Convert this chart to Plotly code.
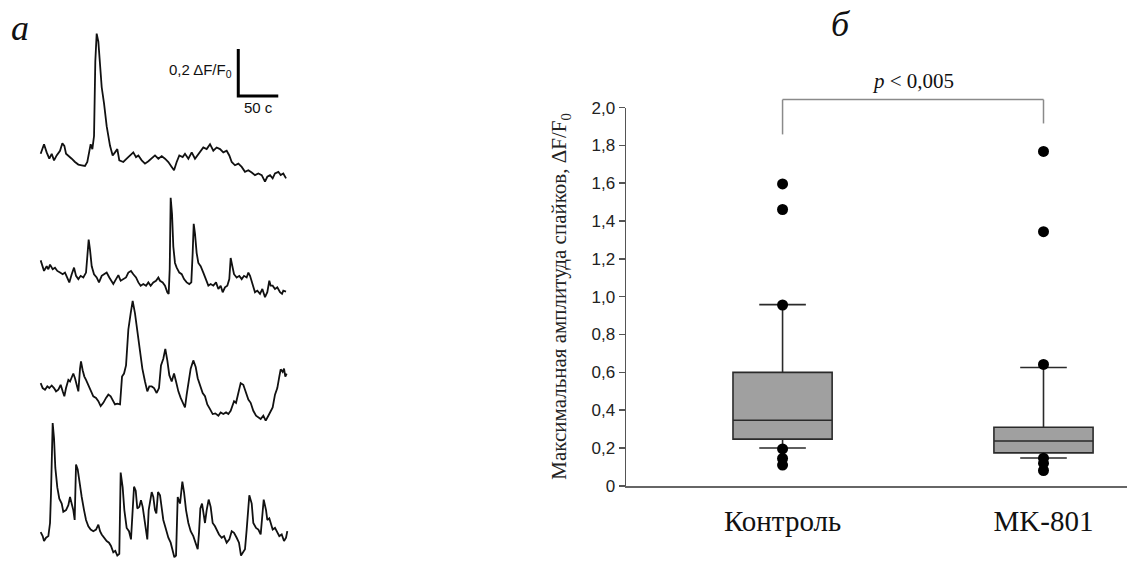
import plotly.graph_objects as go

# ---------------- Panel a: calcium traces (time, s ; dF/F0) ----------------
T1 = [0, 4.2, 7.5, 10.8, 13.8, 16.7, 20.0, 24.2, 27.1, 29.6,
      31.7, 34.6, 38.8, 42.9, 47.1, 51.3, 55.4, 58.3, 60.8, 62.5,
      64.6, 66.7, 68.3, 70.0, 72.1, 74.2, 76.3, 79.2, 82.5, 86.7,
      90.0, 92.9, 95.8, 98.3, 103.3, 107.5, 111.7, 115.8, 119.2, 122.1,
      126.3, 130.4, 134.6, 138.8, 142.9, 147.1, 151.3, 155.4, 159.6, 163.8,
      166.7, 170.0, 173.3, 177.5, 180.4, 184.6, 188.8, 192.9, 197.1, 200.0,
      203.3, 207.5, 211.7, 215.8, 220.0, 224.2, 228.3, 232.5, 235.8, 238.8,
      242.9, 247.1, 251.3, 255.4, 259.6, 263.8, 267.9, 272.1, 276.3, 280.4,
      283.3, 286.7, 290.0, 292.9, 297.1, 300.0, 303.3, 306.7]
V1 = [0.063, 0.104, 0.069, 0.042, 0.063, 0.035, 0.056, 0.076, 0.108, 0.097,
      0.063, 0.056, 0.042, 0.028, 0.017, 0.014, 0.011, 0.028, 0.069, 0.104,
      0.083, 0.139, 0.458, 0.576, 0.542, 0.417, 0.347, 0.278, 0.181, 0.097,
      0.056, 0.069, 0.083, 0.035, 0.028, 0.042, 0.056, 0.069, 0.049, 0.056,
      0.035, 0.021, 0.031, 0.042, 0.056, 0.042, 0.053, 0.042, 0.028, 0.007,
      -0.007, 0.028, 0.056, 0.049, 0.063, 0.042, 0.069, 0.042, 0.063, 0.076,
      0.090, 0.083, 0.104, 0.076, 0.090, 0.083, 0.069, 0.076, 0.056, 0.028,
      0.014, 0.021, 0.007, -0.014, -0.007, -0.017, -0.028, -0.021, -0.028, -0.056,
      -0.035, -0.028, -0.042, -0.021, -0.014, -0.028, -0.021, -0.042]

T2 = [0, 2.5, 4.2, 7.5, 9.6, 11.7, 15.0, 17.9, 20.8, 24.2,
      27.5, 30.4, 33.3, 35.8, 38.8, 41.7, 44.2, 47.1, 50.0, 53.3,
      56.7, 58.8, 60.0, 61.7, 63.8, 66.7, 70.0, 72.9, 76.3, 79.2,
      82.5, 85.8, 88.8, 90.8, 94.2, 97.1, 100.0, 103.3, 106.7, 109.6,
      112.9, 115.8, 119.2, 122.1, 125.0, 128.3, 131.7, 134.6, 137.5, 140.8,
      144.2, 147.1, 149.2, 152.5, 155.4, 158.3, 160.0, 161.3, 162.5, 164.2,
      165.8, 167.9, 170.0, 173.3, 176.3, 179.2, 182.5, 185.8, 188.3, 190.0,
      191.3, 192.9, 195.0, 197.1, 200.0, 203.3, 206.7, 209.6, 212.5, 215.8,
      219.2, 222.1, 225.0, 227.5, 230.4, 233.3, 235.8, 237.5, 239.6, 241.7,
      245.0, 248.3, 251.3, 254.2, 257.5, 259.6, 261.7, 265.0, 267.9, 270.8,
      274.2, 277.1, 280.4, 283.3, 285.8, 287.5, 290.0, 292.9, 295.8, 299.2,
      301.7, 303.3, 306.7]
V2 = [0.094, 0.069, 0.049, 0.069, 0.056, 0.076, 0.056, 0.063, 0.049, 0.042,
      0.035, 0.042, 0.021, 0.000, 0.035, 0.063, 0.028, 0.014, 0.028, 0.021,
      0.042, 0.125, 0.183, 0.139, 0.069, 0.035, 0.021, 0.000, 0.028, 0.035,
      0.042, 0.021, 0.007, -0.007, 0.014, 0.031, 0.007, 0.014, 0.021, 0.042,
      0.049, 0.035, 0.021, 0.000, -0.014, -0.007, -0.014, 0.000, -0.014, 0.000,
      0.007, 0.021, 0.007, 0.000, -0.014, -0.042, -0.049, 0.056, 0.361, 0.292,
      0.153, 0.083, 0.063, 0.042, 0.035, 0.014, 0.000, -0.007, 0.000, 0.125,
      0.250, 0.208, 0.125, 0.083, 0.069, 0.042, 0.014, -0.014, -0.007, -0.014,
      0.000, -0.028, -0.014, -0.042, -0.021, -0.014, 0.014, 0.104, 0.069, 0.035,
      0.021, 0.028, 0.014, 0.028, 0.021, 0.042, 0.028, -0.007, -0.042, -0.035,
      -0.049, -0.028, -0.063, -0.042, 0.007, -0.014, -0.014, -0.028, -0.021, -0.042,
      -0.049, -0.035, -0.039]

T3 = [0, 2.5, 5.4, 8.3, 10.8, 13.8, 16.7, 19.2, 22.1, 25.0,
      27.5, 29.6, 31.7, 34.6, 36.7, 38.8, 40.8, 42.9, 45.0, 47.1,
      49.2, 50.4, 52.5, 54.6, 56.7, 59.6, 62.5, 65.8, 69.2, 72.1,
      75.0, 78.3, 81.7, 84.6, 87.5, 90.0, 92.9, 95.8, 99.2, 101.7,
      104.2, 106.7, 109.6, 112.5, 115.0, 117.9, 120.8, 124.2, 127.1, 130.4,
      133.3, 135.8, 138.8, 141.7, 145.0, 147.9, 150.4, 153.3, 155.8, 158.3,
      160.8, 163.8, 166.7, 169.2, 172.1, 175.0, 177.5, 180.4, 182.5, 185.0,
      187.5, 190.8, 193.8, 196.3, 199.2, 202.5, 205.4, 208.3, 211.7, 215.0,
      218.3, 222.1, 225.0, 228.3, 231.7, 234.6, 237.5, 240.0, 241.7, 244.2,
      247.1, 250.0, 253.3, 256.7, 259.6, 262.5, 265.8, 269.2, 272.1, 275.0,
      278.3, 281.3, 284.6, 287.5, 290.0, 292.9, 295.8, 298.3, 300.0, 302.5,
      304.2, 305.8, 307.5]
V3 = [0.035, 0.014, 0.007, 0.021, 0.014, 0.025, 0.014, 0.000, 0.007, 0.028,
      0.000, -0.021, 0.014, 0.049, 0.042, 0.063, 0.076, 0.056, 0.028, 0.000,
      0.097, 0.128, 0.090, 0.063, 0.049, 0.028, 0.007, -0.021, -0.028, -0.042,
      -0.063, -0.049, -0.028, -0.014, -0.021, -0.035, -0.056, -0.053, -0.056, 0.063,
      0.076, 0.111, 0.264, 0.333, 0.386, 0.333, 0.264, 0.174, 0.097, 0.042,
      0.000, 0.021, 0.021, 0.014, -0.007, 0.014, 0.111, 0.139, 0.181, 0.132,
      0.069, 0.042, 0.076, 0.042, 0.000, -0.028, -0.049, -0.069, -0.014, 0.042,
      0.097, 0.132, 0.104, 0.056, 0.028, -0.007, -0.021, -0.056, -0.076, -0.097,
      -0.094, -0.104, -0.090, -0.097, -0.090, -0.097, -0.083, -0.056, -0.042, -0.049,
      0.000, 0.035, 0.028, -0.007, -0.035, -0.049, -0.083, -0.104, -0.111, -0.118,
      -0.104, -0.125, -0.104, -0.083, -0.069, -0.014, 0.014, 0.063, 0.094, 0.083,
      0.097, 0.063, 0.076]

T4 = [0, 2.5, 4.2, 6.7, 9.6, 11.7, 12.9, 14.2, 15.0, 16.7,
      18.3, 20.8, 23.3, 26.3, 28.3, 31.7, 34.6, 36.7, 38.8, 40.8,
      42.5, 44.2, 46.3, 48.3, 51.3, 54.2, 56.7, 59.6, 62.5, 65.8,
      69.2, 72.1, 74.2, 76.3, 79.2, 82.5, 85.4, 87.9, 90.8, 93.3,
      95.8, 98.3, 100.0, 102.5, 104.6, 107.5, 110.4, 112.9, 115.0, 116.7,
      118.8, 120.8, 123.3, 125.4, 127.5, 129.6, 131.7, 133.3, 135.0, 136.7,
      138.8, 140.8, 142.9, 144.6, 146.7, 149.2, 151.3, 153.3, 156.7, 159.6,
      162.5, 165.0, 167.1, 169.2, 171.3, 174.2, 177.1, 179.2, 181.7, 184.6,
      187.5, 190.8, 193.8, 196.3, 197.9, 199.6, 201.7, 203.3, 205.4, 207.5,
      210.0, 212.5, 215.0, 217.9, 220.0, 222.9, 226.3, 229.2, 232.5, 235.8,
      238.8, 241.7, 245.0, 247.9, 250.4, 252.5, 255.4, 257.5, 259.6, 260.8,
      263.8, 265.8, 269.2, 272.1, 275.0, 277.1, 278.8, 281.7, 283.3, 285.8,
      287.9, 290.0, 292.9, 295.8, 298.3, 301.3, 304.2, 306.7, 308.3]
V4 = [0.017, 0.000, -0.021, -0.007, 0.000, 0.056, 0.181, 0.389, 0.483, 0.417,
      0.292, 0.208, 0.160, 0.139, 0.104, 0.111, 0.132, 0.167, 0.139, 0.111,
      0.069, 0.306, 0.285, 0.229, 0.167, 0.111, 0.069, 0.042, 0.028, 0.021,
      0.028, 0.049, 0.021, 0.007, -0.007, -0.021, -0.028, -0.042, -0.069, -0.063,
      -0.083, -0.076, 0.271, 0.208, 0.111, 0.035, 0.021, -0.014, 0.111, 0.211,
      0.194, 0.118, 0.125, 0.153, 0.125, 0.069, 0.007, -0.014, 0.111, 0.153,
      0.188, 0.167, 0.111, 0.097, 0.188, 0.174, 0.111, 0.069, 0.028, -0.007,
      -0.028, -0.056, -0.090, -0.083, 0.167, 0.139, 0.233, 0.188, 0.111, 0.056,
      0.021, 0.000, -0.028, -0.056, 0.014, 0.118, 0.139, 0.097, 0.056, 0.111,
      0.156, 0.125, 0.056, 0.042, 0.028, 0.007, -0.007, 0.000, -0.028, -0.014,
      0.021, 0.014, -0.007, -0.028, -0.083, -0.069, -0.056, 0.028, 0.139, 0.174,
      0.139, 0.056, 0.035, 0.028, 0.007, 0.097, 0.156, 0.111, 0.069, 0.076,
      0.049, 0.028, 0.035, 0.014, 0.000, 0.007, -0.021, -0.007, 0.021]

SCALE_DV = 0.2      # dF/F0
SCALE_DT = 50       # s
SCALE_LABEL_V = "0,2 ΔF/F<sub>0</sub>"
SCALE_LABEL_T = "50 с"

# ---------------- Panel b: box plot ----------------
GROUPS = ["Контроль", "MK-801"]
Q1 = [0.247, 0.174]
MEDIAN = [0.347, 0.237]
Q3 = [0.600, 0.310]
LOWER = [0.200, 0.147]
UPPER = [0.958, 0.626]
OUTLIERS = [
    [1.596, 1.461, 0.956, 0.195, 0.145, 0.110],
    [1.768, 1.344, 0.642, 0.146, 0.119, 0.081],
]
Y_TICKS = [0, 0.2, 0.4, 0.6, 0.8, 1.0, 1.2, 1.4, 1.6, 1.8, 2.0]
Y_TICK_LABELS = ["0", "0,2", "0,4", "0,6", "0,8", "1,0", "1,2", "1,4", "1,6", "1,8", "2,0"]
Y_TITLE = "Максимальная амплитуда спайков, ΔF/F<sub>0</sub>"
P_TEXT = "<i>p</i> &lt; 0,005"

# ---------------- layout constants ----------------
W, H = 1127, 569
V_OFF, V_SCALE = 7.0, 0.971          # vertical correction of the page capture


def ypx(y):
    """target pixel row -> figure pixel row"""
    return (y - V_OFF) / V_SCALE


def ypaper(y):
    return 1 - ypx(y) / H


TRACE_OFFSETS = [0.0, -0.486, -0.951, -1.569]
SCALE_T0, SCALE_V0 = 247, 0.31
XA_DOM = [0.02, 0.28]
XA_RANGE = [-22.66, 343.61]
YA_RANGE = [-1.6667, 0.6811]
X2_DOM = [626 / W, 1.0]
X2_RANGE = [-0.6, 1.32]
Y2_DOM = [ypaper(486), ypaper(106)]
Y2_RANGE = [0, 2.0]
BRACKET_V, LEG_L, LEG_R, P_V = 2.042, 1.858, 1.916, 2.14


def px2(i):
    return X2_DOM[0] + (i - X2_RANGE[0]) / (X2_RANGE[1] - X2_RANGE[0]) * (X2_DOM[1] - X2_DOM[0])


def py2(v):
    return Y2_DOM[0] + (v - Y2_RANGE[0]) / (Y2_RANGE[1] - Y2_RANGE[0]) * (Y2_DOM[1] - Y2_DOM[0])


fig = go.Figure()

for (t, v), off in zip([(T1, V1), (T2, V2), (T3, V3), (T4, V4)], TRACE_OFFSETS):
    fig.add_trace(go.Scatter(x=t, y=[vi + off for vi in v], mode="lines",
                             line=dict(color="#111111", width=1.8),
                             xaxis="x", yaxis="y", showlegend=False, hoverinfo="skip"))

# scale bar
fig.add_trace(go.Scatter(x=[SCALE_T0, SCALE_T0, SCALE_T0 + SCALE_DT],
                         y=[SCALE_V0 + SCALE_DV, SCALE_V0, SCALE_V0],
                         mode="lines", line=dict(color="#000000", width=3),
                         xaxis="x", yaxis="y", showlegend=False, hoverinfo="skip"))

# boxes
for i, g in enumerate(GROUPS):
    fig.add_trace(go.Box(x=[g], q1=[Q1[i]], median=[MEDIAN[i]], q3=[Q3[i]],
                         lowerfence=[LOWER[i]], upperfence=[UPPER[i]],
                         xaxis="x2", yaxis="y2", fillcolor="#a0a0a0",
                         line=dict(color="#2a2a2a", width=1.6), width=0.38,
                         whiskerwidth=0.47, boxpoints=False, showlegend=False))
    fig.add_trace(go.Scatter(x=[g] * len(OUTLIERS[i]), y=OUTLIERS[i], mode="markers",
                             marker=dict(color="#000000", size=11),
                             xaxis="x2", yaxis="y2", cliponaxis=False, showlegend=False))

# significance bracket
shape_style = dict(type="line", xref="paper", yref="paper", line=dict(color="#8a8a8a", width=1.5))
fig.add_shape(x0=px2(0), x1=px2(0), y0=py2(LEG_L), y1=py2(BRACKET_V), **shape_style)
fig.add_shape(x0=px2(0), x1=px2(1), y0=py2(BRACKET_V), y1=py2(BRACKET_V), **shape_style)
fig.add_shape(x0=px2(1), x1=px2(1), y0=py2(LEG_R), y1=py2(BRACKET_V), **shape_style)

C = dict(xanchor="center", yanchor="middle", showarrow=False)
annotations = [
    dict(text=P_TEXT, x=px2(0.5), y=py2(P_V), xref="paper", yref="paper",
         font=dict(family="Liberation Serif", size=21, color="#111"), **C),
    dict(text=Y_TITLE, x=560 / W, y=ypaper(296), xref="paper", yref="paper",
         textangle=-90, font=dict(family="Liberation Serif", size=21, color="#222"), **C),
    dict(text="a", x=20 / W, y=ypaper(26), xref="paper", yref="paper",
         font=dict(family="Liberation Serif", size=36, color="#111", style="italic"), **C),
    dict(text="б", x=841 / W, y=ypaper(22), xref="paper", yref="paper",
         font=dict(family="Liberation Serif", size=36, color="#111", style="italic"), **C),
    dict(text=SCALE_LABEL_V, x=SCALE_T0 - 5, y=SCALE_V0 + SCALE_DV / 2 + 0.01, xref="x", yref="y",
         showarrow=False, xanchor="right", yanchor="middle",
         font=dict(family="Liberation Sans", size=15, color="#111")),
    dict(text=SCALE_LABEL_T, x=SCALE_T0 + SCALE_DT / 2, y=SCALE_V0 - 0.005, xref="x", yref="y",
         showarrow=False, xanchor="center", yanchor="top",
         font=dict(family="Liberation Sans", size=15, color="#111")),
]

fig.update_layout(
    width=W, height=H, margin=dict(l=0, r=0, t=0, b=0), autosize=False,
    paper_bgcolor="white", plot_bgcolor="rgba(0,0,0,0)", showlegend=False,
    annotations=annotations,
    xaxis=dict(domain=XA_DOM, range=XA_RANGE, visible=False, anchor="y"),
    yaxis=dict(domain=[0, 1], range=YA_RANGE, visible=False, anchor="x"),
    xaxis2=dict(domain=X2_DOM, range=X2_RANGE, anchor="y2", type="category",
                categoryorder="array", categoryarray=GROUPS,
                showline=True, linecolor="#666666", linewidth=2, ticks="",
                showgrid=False, zeroline=False, ticklabelstandoff=8,
                tickfont=dict(family="Liberation Serif", size=29, color="#111")),
    yaxis2=dict(domain=Y2_DOM, range=Y2_RANGE, anchor="x2",
                tickvals=Y_TICKS, ticktext=Y_TICK_LABELS, ticks="outside", ticklen=6,
                tickcolor="#555555", tickwidth=1.5, showline=True, linecolor="#555555",
                linewidth=1.5, showgrid=False, zeroline=False,
                tickfont=dict(family="Liberation Sans", size=17, color="#222")),
)

PAGE_CSS = ("var s=document.createElement('style');"
            "s.textContent='html,body{margin:0!important;padding:0!important;overflow:hidden!important;"
            "width:1127px;height:569px}"
            ".plotly-graph-div{position:fixed!important;top:0!important;left:0!important}';"
            "document.head.appendChild(s);")

fig.write_html("out.html", config={"displayModeBar": False, "staticPlot": True},
               post_script=PAGE_CSS)
